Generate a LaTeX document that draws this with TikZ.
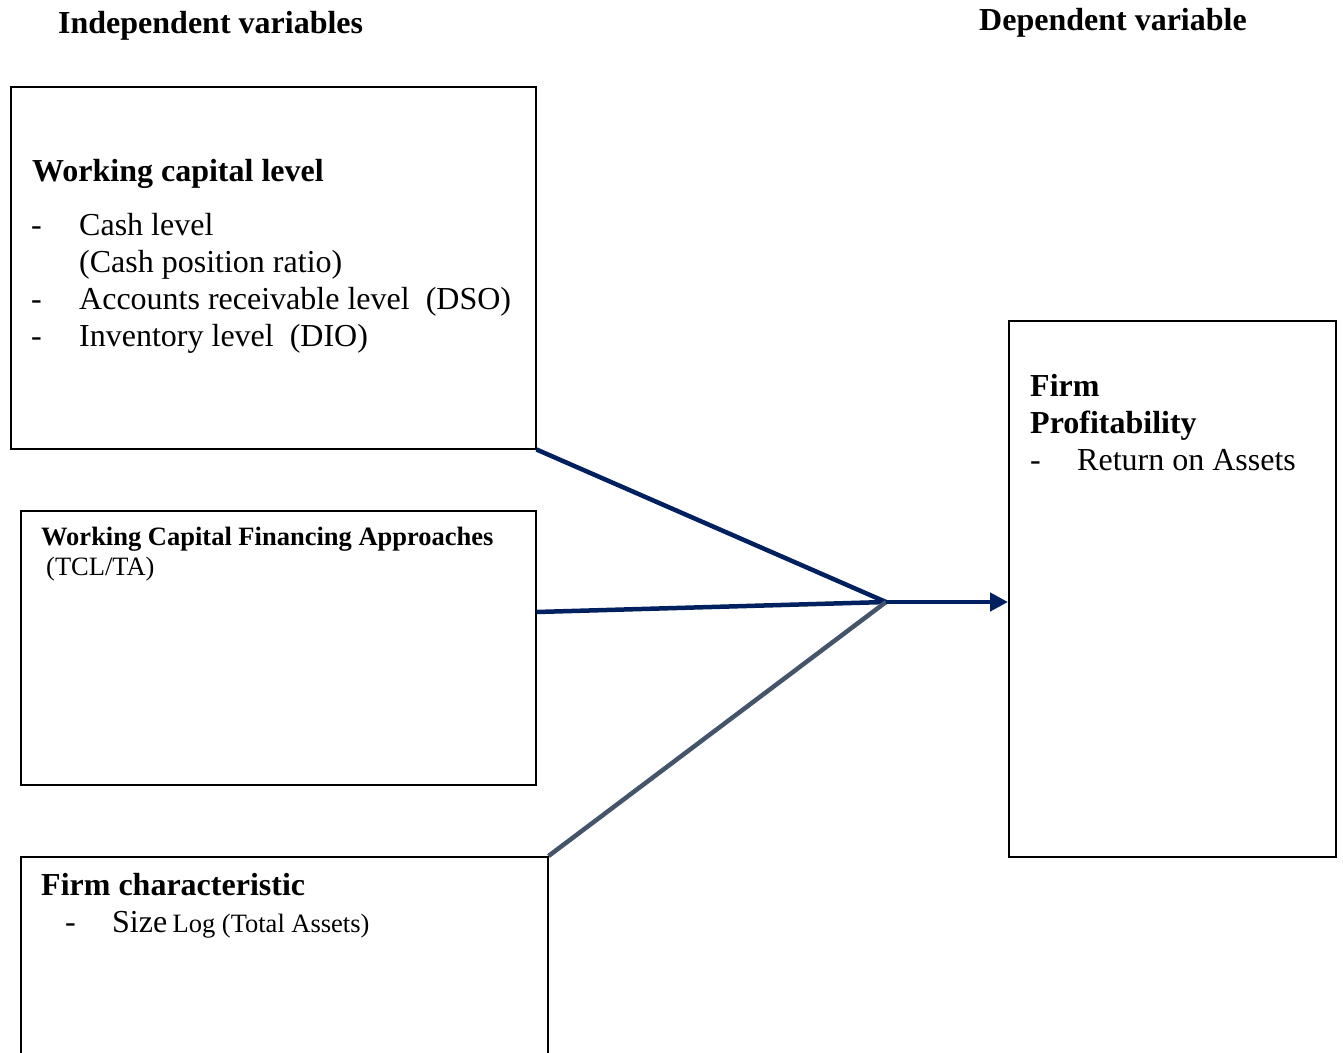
\documentclass[tikz,border=0pt]{standalone}
\usepackage{fontspec}
\setmainfont{Liberation Serif}
\usetikzlibrary{arrows.meta}
\definecolor{navy}{HTML}{002060}
\definecolor{slate}{HTML}{44546A}
\tikzset{
  box/.style={draw=black, line width=1.5pt, inner sep=0pt, anchor=north west},
  txt/.style={anchor=base west, inner sep=0pt, font=\fontsize{32}{37}\selectfont},
  btxt/.style={txt, font=\fontsize{32}{37}\selectfont\bfseries},
  conn/.style={line width=4.5pt},
}
\begin{document}
\begin{tikzpicture}[x=1pt,y=-1pt]
\useasboundingbox (0,0) rectangle (1343,1052);
% headings
\node[btxt] (hind) at (58,33) {Independent variables};
\node[btxt] (hdep) at (979,30) {Dependent variable};
% boxes
\node[box, minimum width=525pt, minimum height=362pt] (b1) at (10,86) {};
\node[box, minimum width=515pt, minimum height=274pt] (b2) at (20,510) {};
\node[box, minimum width=527pt, minimum height=220pt] (b3) at (20,856) {};
\node[box, minimum width=327pt, minimum height=536pt] (b4) at (1008,320) {};
% box 1 text
\node[btxt] (t1) at (32,181) {Working capital level};
\node[txt] (d11) at (31,235) {-};
\node[txt] (t11) at (79,235) {Cash level};
\node[txt] (t12) at (79,272) {(Cash position ratio)};
\node[txt] (d13) at (31,309) {-};
\node[txt] (t13) at (79,309) {Accounts receivable level\ \ (DSO)};
\node[txt] (d14) at (31,346) {-};
\node[txt] (t14) at (79,346) {Inventory level\ \ (DIO)};
% box 2 text
\node[btxt, font=\fontsize{26.5}{30}\selectfont\bfseries] (t2) at (41,545) {Working Capital Financing Approaches};
\node[txt, font=\fontsize{26.5}{30}\selectfont] (t21) at (46,575) {(TCL/TA)};
% box 3 text
\node[btxt] (t3) at (41,895) {Firm characteristic};
\node[txt] (d31) at (65,932) {-};
\node[txt] (t31) at (112,932) {Size\,{\fontsize{26.5}{30}\selectfont Log (Total Assets)}};
% box 4 text
\node[btxt] (t4) at (1030,396) {Firm};
\node[btxt] (t42) at (1030,433) {Profitability};
\node[txt] (d43) at (1030,470) {-};
\node[txt] (t43) at (1077,470) {Return on Assets};
% connectors
\coordinate (J) at (886,602);
\draw[conn, navy] (b1.south east) -- (J);
\draw[conn, navy] ([yshift=-102pt]b2.north east) -- (J);
\draw[conn, slate] (b3.north east) -- (J);
\draw[conn, navy, -{Triangle[length=18pt,width=18pt]}] (J) -- ([yshift=-282pt]b4.north west);
\end{tikzpicture}
\end{document}
